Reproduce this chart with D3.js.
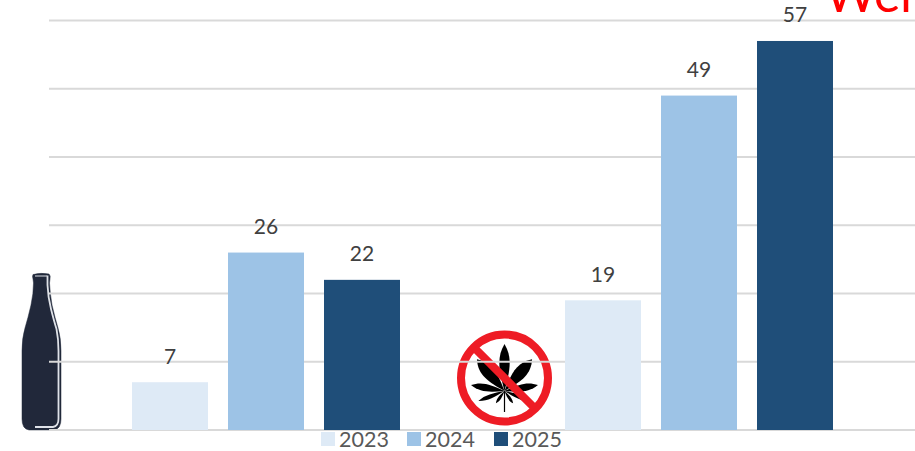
<!DOCTYPE html>
<html><head><meta charset="utf-8">
<script src="https://cdn.jsdelivr.net/npm/d3@7/dist/d3.min.js"></script>
<style>html,body{margin:0;padding:0;background:#fff;overflow:hidden}svg{display:block}text{font-family:Lato,"Open Sans",sans-serif}</style>
</head><body><svg id="c" width="915" height="451"></svg>
<script>
const groups = ["Alkohol", "Cannabis"];
const years = ["2023", "2024", "2025"];
const alcohol = [7, 26, 22];
const cannabis = [19, 49, 57];
const yTicks = [0, 10, 20, 30, 40, 50, 60];
const yearColors = ["#deeaf6", "#9dc3e6", "#1f4e79"];
const titleText = "Were";

const svg = d3.select("#c");
const y = d3.scaleLinear().domain([0, 60]).range([430, 20.5]);
const x0 = d3.scaleBand().domain(groups).range([49.5, 915.5]);
const inset = (x0.bandwidth() - 2 * 96 - 76) / 2;
const x1 = d3.scaleBand().domain(years).range([inset, x0.bandwidth() - inset]).paddingInner(20 / 96).paddingOuter(0);
const color = d3.scaleOrdinal(years, yearColors);
const series = { Alkohol: alcohol, Cannabis: cannabis };

// bottle icon (vector in its own local space)
const bottle = svg.append("g").attr("transform", "translate(21,273)");
bottle.append("path").attr("fill", "#21283a").attr("stroke", "#21283a").attr("stroke-width", 0.5)
  .attr("d", "M12,1.5 Q20,-0.5 28,1 Q30,3 29,6 L28.5,10 Q29,20 31,32 Q34,45 37,55 Q40,65 40,78 L40,146 Q40,156 33,157 L8,157 Q1,156 1,146 L1,78 Q1,65 4,55 Q7,45 10,32 Q12.5,20 12.5,10 L12,6 Q11,3 12,1.5Z");
bottle.append("path").attr("fill", "none").attr("stroke", "#dfe2e8").attr("stroke-width", 1.8)
  .attr("d", "M26.5,2.5 L26.5,12 Q27,24 30,36 Q33,48 35.5,56 Q37.5,66 37.5,78 L37.5,146 Q37.5,153 32,154 L14,154");
bottle.append("path").attr("fill", "none").attr("stroke", "#dfe2e8").attr("stroke-width", 1)
  .attr("d", "M14,3 L26,3");

// cannabis prohibition icon
const icon = svg.append("g").attr("transform", "translate(504.5,378)");
icon.append("circle").attr("r", 47.5).attr("fill", "#fff");
const leaf = (len, w, a) => icon.append("path").attr("fill", "#000")
  .attr("transform", `translate(0,13) rotate(${a})`)
  .attr("d", `M0,0 C${w * 0.6},${-len * 0.4} ${w},${-len * 0.7} 0,${-len} C${-w},${-len * 0.7} ${-w * 0.6},${-len * 0.4} 0,0Z`);
[[47, 8.5, 0], [42, 10, 41], [42, 10, -41], [34, 6, 80], [34, 6, -80], [28, 3.5, 111], [28, 3.5, -111], [15, 2.5, 145], [15, 2.5, -145]].forEach(d => leaf(...d));
icon.append("line").attr("x1", 0).attr("x2", 0).attr("y1", 13).attr("y2", 34).attr("stroke", "#000").attr("stroke-width", 1.2);
icon.append("circle").attr("r", 43.5).attr("fill", "none").attr("stroke", "#ee1c25").attr("stroke-width", 8);
icon.append("line").attr("x1", -30).attr("y1", -30).attr("x2", 30).attr("y2", 30).attr("stroke", "#ee1c25").attr("stroke-width", 8);

// gridlines
svg.append("g").selectAll("line").data(yTicks).join("line")
  .attr("x1", 49).attr("x2", 915)
  .attr("y1", d => y(d)).attr("y2", d => y(d))
  .attr("stroke", "#d9d9d9").attr("stroke-width", 2);

// bars + labels
groups.forEach(g => {
  const gr = svg.append("g").attr("transform", `translate(${x0(g)},0)`);
  const rows = years.map((yr, i) => ({ yr, v: series[g][i] }));
  gr.selectAll("rect").data(rows).join("rect")
    .attr("x", d => x1(d.yr)).attr("width", x1.bandwidth())
    .attr("y", d => y(d.v)).attr("height", d => y(0) - y(d.v))
    .attr("fill", d => color(d.yr));
  gr.selectAll("text").data(rows).join("text")
    .attr("x", d => x1(d.yr) + x1.bandwidth() / 2)
    .attr("y", d => y(d.v) - 18.5)
    .attr("text-anchor", "middle").attr("font-size", 21).attr("fill", "#404040")
    .text(d => d.v);
});

// legend
const legendX = [321, 407, 494];
const lg = svg.append("g").selectAll("g").data(years).join("g")
  .attr("transform", (d, i) => `translate(${legendX[i]},432)`);
lg.append("rect").attr("width", 14).attr("height", 14).attr("fill", d => color(d));
lg.append("text").attr("x", 18).attr("y", 15).attr("font-size", 21.5).attr("fill", "#595959").text(d => d);

// clipped red title
svg.append("text").attr("x", 825).attr("y", 12).attr("font-size", 50).attr("fill", "#ff0000").text(titleText);
</script></body></html>
